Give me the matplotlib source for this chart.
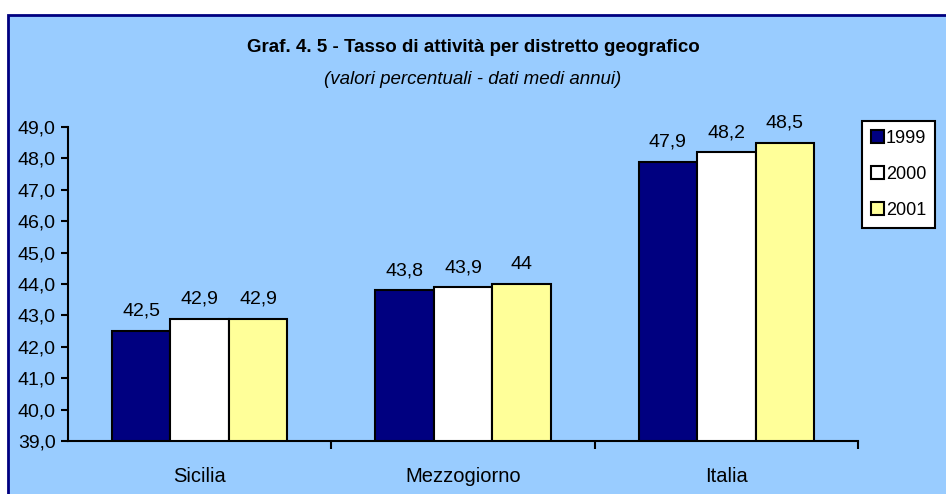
import numpy as np
import matplotlib
matplotlib.use("Agg")
import matplotlib.pyplot as plt
from matplotlib.patches import Rectangle

plt.rcParams["font.family"] = ["Liberation Sans", "DejaVu Sans"]

# data
categories = ["Sicilia", "Mezzogiorno", "Italia"]
years = ["1999", "2000", "2001"]
values_1999 = [42.5, 43.8, 47.9]
values_2000 = [42.9, 43.9, 48.2]
values_2001 = [42.9, 44.0, 48.5]
labels_1999 = ["42,5", "43,8", "47,9"]
labels_2000 = ["42,9", "43,9", "48,2"]
labels_2001 = ["42,9", "44", "48,5"]
colors = ["#000080", "#FFFFFF", "#FFFF99"]

bg = "#99CCFF"
fig = plt.figure(figsize=(9.46, 4.94), dpi=100)
fig.patch.set_facecolor("white")

# chart area frame (drawn behind the plot)
frame = Rectangle((8 / 946, -0.05), 1.05, 1 - 15 / 494 + 0.05, transform=fig.transFigure,
                  facecolor=bg, edgecolor="#000080", linewidth=2, zorder=-10)
fig.patches.append(frame)

ax = fig.add_axes([68 / 946, 1 - 441 / 494, (858 - 68) / 946, (441 - 127) / 494])
ax.set_facecolor("none")
ax.set_zorder(5)

x = np.arange(len(categories))
w = 0.222
series = [values_1999, values_2000, values_2001]
lbls = [labels_1999, labels_2000, labels_2001]
for i, (vals, lab, col, yr) in enumerate(zip(series, lbls, colors, years)):
    pos = x + (i - 1) * w
    ax.bar(pos, np.array(vals) - 39, bottom=39, width=w, color=col,
           edgecolor="black", linewidth=1.5, label=yr, zorder=3)
    for p, v, t in zip(pos, vals, lab):
        ax.annotate(t, (p, v), xytext=(0, 8), textcoords="offset points",
                    ha="center", va="bottom", fontsize=14, color="black")

ax.set_ylim(39, 49)
ax.set_yticks(np.arange(39, 49.1, 1))
ax.set_yticklabels([f"{v:.1f}".replace(".", ",") for v in np.arange(39, 49.1, 1)],
                   fontsize=14)
ax.set_xlim(-0.5, 2.5)
ax.set_xticks([0.5, 1.5, 2.5])
ax.set_xticklabels([])
ax.set_xticks(x, minor=True)
ax.set_xticklabels(categories, minor=True, fontsize=14.5)
ax.tick_params(axis="x", which="minor", length=0, pad=19)
ax.tick_params(axis="x", which="major", length=6, width=1.5, direction="out")
ax.tick_params(axis="y", length=5, width=1.5, direction="out", pad=4)
for s in ["top", "right"]:
    ax.spines[s].set_visible(False)
for s in ["left", "bottom"]:
    ax.spines[s].set_linewidth(1.5)

fig.text(0.5, 1 - 47 / 494, "Graf. 4. 5 - Tasso di attività per distretto geografico",
         ha="center", va="center", fontsize=13.5, fontweight="bold")
fig.text(0.5, 1 - 79 / 494, "(valori percentuali - dati medi annui)",
         ha="center", va="center", fontsize=13.5, style="italic")

leg = fig.legend(loc="upper left", bbox_to_anchor=(862 / 946, 1 - 121 / 494),
                 fontsize=13, frameon=True, fancybox=False, edgecolor="black",
                 facecolor="white", framealpha=1,
                 handlelength=0.7, handleheight=0.7, handletextpad=0.12,
                 borderpad=0.5, labelspacing=1.05, borderaxespad=0)
leg.get_frame().set_linewidth(1.5)
leg.set_zorder(6)

fig.savefig("out.png", dpi=100, facecolor=fig.get_facecolor())
